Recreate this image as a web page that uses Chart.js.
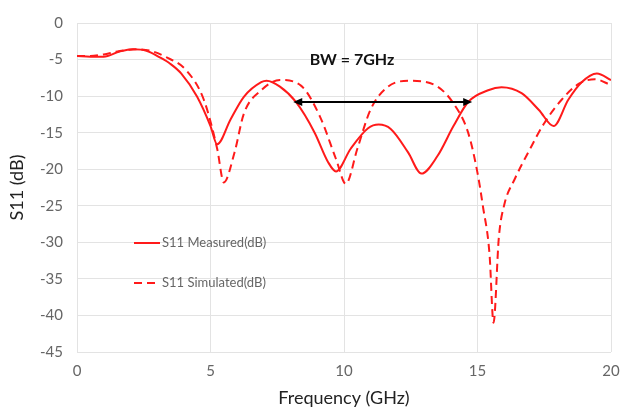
<!DOCTYPE html>
<html>
<head>
<meta charset="utf-8">
<script src="https://cdn.jsdelivr.net/npm/chart.js@4"></script>
<style>
  html, body { margin: 0; padding: 0; background: #fff; }
  #wrap { width: 620px; height: 409px; }
</style>
</head>
<body>
<div id="wrap"><canvas id="s11-chart" width="620" height="409"></canvas></div>
<script>
// measured S11 (solid)
const freqMeasured = [0, 0.5, 1.0, 1.6, 2.1, 2.6, 3.1, 3.5, 3.9, 4.5, 5.0, 5.25, 5.75, 6.25, 6.9, 7.1, 7.6, 8.2, 8.9, 9.4, 9.7, 10.25, 10.9, 11.3, 11.75, 12.4, 12.9, 13.5, 14.1, 14.65, 15.4, 15.9, 16.65, 17.3, 17.85, 18.4, 18.9, 19.47, 20];
const s11Measured = [-4.5, -4.6, -4.6, -3.9, -3.6, -3.8, -4.7, -5.6, -6.9, -10.1, -14.1, -16.6, -13.2, -10.1, -8.1, -7.9, -8.7, -10.8, -15, -19, -20.3, -17.2, -14.4, -13.9, -14.5, -17.7, -20.6, -18.2, -14.1, -10.8, -9.2, -8.8, -9.6, -11.9, -14.1, -10.5, -8.1, -6.9, -7.8];

// simulated S11 (dashed)
const freqSimulated = [0, 0.5, 1.0, 1.5, 2.2, 2.75, 3.3, 4.1, 4.75, 5.25, 5.5, 5.9, 6.25, 6.9, 7.6, 8.4, 9.1, 9.7, 10.07, 10.5, 11.0, 11.65, 12.5, 13.5, 14.1, 14.65, 15.0, 15.2, 15.45, 15.6, 15.8, 16.0, 16.4, 16.9, 17.5, 18.15, 18.8, 19.4, 20];
const s11Simulated = [-4.5, -4.5, -4.3, -3.9, -3.6, -3.8, -4.6, -6.5, -10.5, -17.2, -21.8, -17.7, -12.4, -9.2, -7.8, -8.6, -12.8, -18.6, -22, -17.2, -11.8, -8.7, -7.9, -8.7, -11, -15, -20.5, -25, -31.6, -41, -29.3, -24.9, -21.3, -17.7, -13.7, -10.5, -8.3, -7.7, -8.5];

const xTicks = [0, 5, 10, 15, 20];
const yTicks = [0, -5, -10, -15, -20, -25, -30, -35, -40, -45];
const seriesNames = ['S11 Measured(dB)', 'S11 Simulated(dB)'];

// bandwidth marker
const bwStart = 8.1;
const bwEnd = 14.8;
const bwLevel = -10.8;
const bwText = 'BW = 7GHz';

const FONT = 'Lato, "Open Sans", sans-serif';

function toPoints(xs, ys) {
    return xs.map((x, i) => ({ x: x, y: ys[i] }));
}

const bwPlugin = {
    id: 'bwArrow',
    afterDatasetsDraw(chart) {
        const ctx = chart.ctx;
        const xs = chart.scales.x;
        const ys = chart.scales.y;
        const x1 = xs.getPixelForValue(bwStart);
        const x2 = xs.getPixelForValue(bwEnd);
        const y = ys.getPixelForValue(bwLevel);

        ctx.save();
        ctx.strokeStyle = '#000';
        ctx.fillStyle = '#000';
        ctx.lineWidth = 2;
        ctx.beginPath();
        ctx.moveTo(x1 + 6, y);
        ctx.lineTo(x2 - 6, y);
        ctx.stroke();
        // arrow heads
        ctx.beginPath();
        ctx.moveTo(x1, y);
        ctx.lineTo(x1 + 9, y - 4);
        ctx.lineTo(x1 + 9, y + 4);
        ctx.closePath();
        ctx.fill();
        ctx.beginPath();
        ctx.moveTo(x2, y);
        ctx.lineTo(x2 - 9, y - 4);
        ctx.lineTo(x2 - 9, y + 4);
        ctx.closePath();
        ctx.fill();

        ctx.font = 'bold 16px ' + FONT;
        ctx.textAlign = 'center';
        ctx.textBaseline = 'middle';
        ctx.fillStyle = '#111';
        ctx.fillText(bwText, xs.getPixelForValue(10.3), ys.getPixelForValue(-5.1));
        ctx.restore();
    }
};

const legendPlugin = {
    id: 'innerLegend',
    afterDatasetsDraw(chart) {
        const ctx = chart.ctx;
        const rows = [243, 283];
        ctx.save();
        chart.data.datasets.forEach((ds, i) => {
            const y = rows[i];
            ctx.strokeStyle = ds.borderColor;
            ctx.lineWidth = 2;
            ctx.setLineDash(ds.borderDash || []);
            ctx.beginPath();
            ctx.moveTo(134, y);
            ctx.lineTo(160, y);
            ctx.stroke();
            ctx.setLineDash([]);
            ctx.font = '13px ' + FONT;
            ctx.fillStyle = '#666';
            ctx.textAlign = 'left';
            ctx.textBaseline = 'middle';
            ctx.fillText(seriesNames[i], 162, y);
        });
        ctx.restore();
    }
};

new Chart(document.getElementById('s11-chart'), {
    type: 'line',
    data: {
        datasets: [{
            label: seriesNames[0],
            data: toPoints(freqMeasured, s11Measured),
            borderColor: '#ff1a1a',
            borderWidth: 2,
            pointRadius: 0,
            cubicInterpolationMode: 'monotone',
            fill: false
        }, {
            label: seriesNames[1],
            data: toPoints(freqSimulated, s11Simulated),
            borderColor: '#ff1a1a',
            borderWidth: 2,
            borderDash: [8, 5],
            pointRadius: 0,
            cubicInterpolationMode: 'monotone',
            fill: false
        }]
    },
    options: {
        responsive: false,
        animation: false,
        layout: { padding: { top: 15, right: 0, left: 6, bottom: 0 } },
        plugins: {
            legend: { display: false },
            tooltip: { enabled: false }
        },
        scales: {
            x: {
                type: 'linear',
                min: 0,
                max: 20,
                afterBuildTicks(scale) {
                    scale.ticks = xTicks.map(v => ({ value: v }));
                },
                afterFit(scale) {
                    scale.height = 57;
                    scale.paddingLeft = 0;
                    scale.paddingRight = 9;
                },
                grid: { color: '#e3e3e3', drawTicks: false },
                border: { display: false },
                ticks: {
                    color: '#666',
                    padding: 10,
                    font: { family: FONT, size: 15 }
                },
                title: {
                    display: true,
                    text: 'Frequency (GHz)',
                    color: '#222',
                    padding: { top: 2, bottom: 0 },
                    font: { family: FONT, size: 18 }
                }
            },
            y: {
                type: 'linear',
                min: -45,
                max: 0,
                afterBuildTicks(scale) {
                    scale.ticks = yTicks.map(v => ({ value: v }));
                },
                afterFit(scale) { scale.width = 71; },
                grid: { color: '#e3e3e3', drawTicks: false },
                border: { display: false },
                ticks: {
                    color: '#666',
                    padding: 14,
                    font: { family: FONT, size: 15 }
                },
                title: {
                    display: true,
                    text: 'S11 (dB)',
                    color: '#222',
                    padding: { top: 0, bottom: 0 },
                    font: { family: FONT, size: 18 }
                }
            }
        }
    },
    plugins: [bwPlugin, legendPlugin]
});
</script>
</body>
</html>
